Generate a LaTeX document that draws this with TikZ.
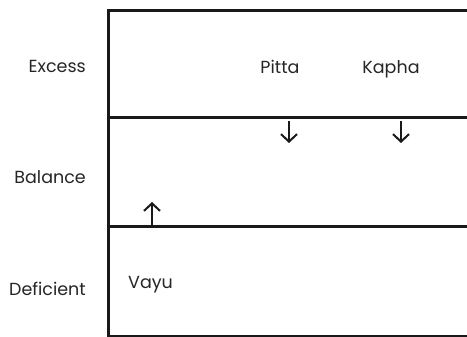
\documentclass[tikz,border=0pt]{standalone}
\usepackage{fontspec}
\setmainfont{Poppins}
\usetikzlibrary{arrows.meta}
\begin{document}
\begin{tikzpicture}[x=1pt,y=-1pt,
  frame/.style={line width=3pt,black!90},
  lbl/.style={font=\fontsize{17.5}{20}\selectfont,text=black!85,inner sep=0pt},
  rowlbl/.style={lbl,anchor=base east},
  cellarrow/.style={line width=2pt,black!90,-{Straight Barb[length=7.5pt,width=16pt,line width=2pt]}}]
\useasboundingbox[fill=white] (0,0) rectangle (467,337);
% frame
\draw[frame] (467,10.5) -- (108.5,10.5) -- (108.5,337);
\draw[frame] (108.5,117.5) -- (467,117.5);
\draw[frame] (108.5,226.5) -- (467,226.5);
\draw[frame] (108.5,336.5) -- (467,336.5);
% row labels
\node[rowlbl] (exc) at (86,73) {Excess};
\node[rowlbl] (bal) at (86,184) {Balance};
\node[rowlbl] (def) at (86,295) {Deficient};
% cell labels
\node[lbl,anchor=base] (pitta) at (280,74) {Pitta};
\node[lbl,anchor=base] (kapha) at (391,74) {Kapha};
\node[lbl,anchor=base west] (vayu) at (128,288) {Vayu};
% arrows
\coordinate (p1) at (289,121); \coordinate (p2) at (289,143);
\coordinate (k1) at (401,121); \coordinate (k2) at (401,143);
\coordinate (v1) at (152,225); \coordinate (v2) at (152,202);
\draw[cellarrow] (p1) -- (p2);
\draw[cellarrow] (k1) -- (k2);
\draw[cellarrow] (v1) -- (v2);
\end{tikzpicture}
\end{document}
